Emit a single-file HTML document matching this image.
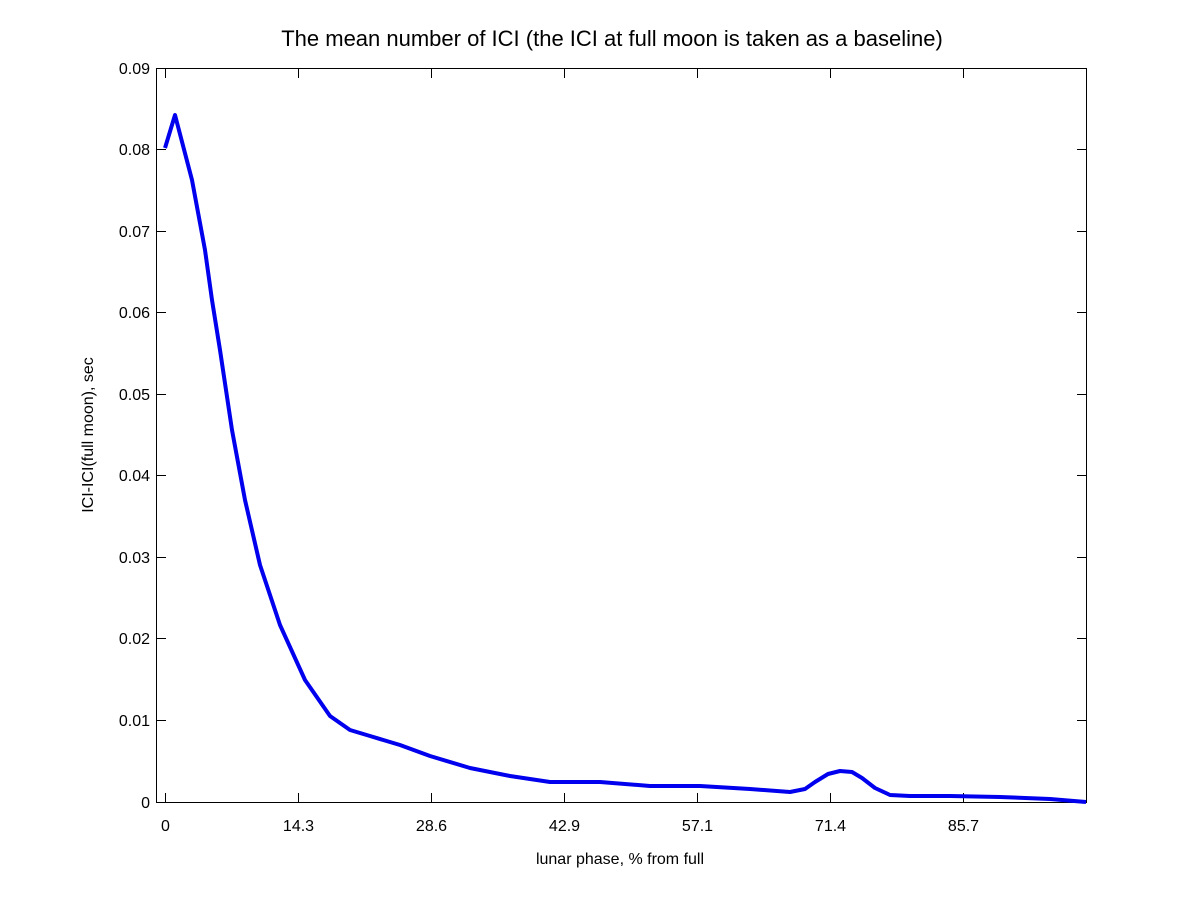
<!DOCTYPE html>
<html><head><style>body{margin:0;background:#fff}</style></head><body>
<svg width="1200" height="901" xmlns="http://www.w3.org/2000/svg" font-family="Liberation Sans, sans-serif">
<rect width="1200" height="901" fill="#fff"/>
<rect x="156.5" y="68.5" width="930" height="734" fill="none" stroke="#000" stroke-width="1"/>
<g stroke="#000" stroke-width="1">
<line x1="165.5" y1="802" x2="165.5" y2="793"/><line x1="165.5" y1="69" x2="165.5" y2="78"/>
<line x1="298.5" y1="802" x2="298.5" y2="793"/><line x1="298.5" y1="69" x2="298.5" y2="78"/>
<line x1="431.5" y1="802" x2="431.5" y2="793"/><line x1="431.5" y1="69" x2="431.5" y2="78"/>
<line x1="564.5" y1="802" x2="564.5" y2="793"/><line x1="564.5" y1="69" x2="564.5" y2="78"/>
<line x1="697.5" y1="802" x2="697.5" y2="793"/><line x1="697.5" y1="69" x2="697.5" y2="78"/>
<line x1="830.5" y1="802" x2="830.5" y2="793"/><line x1="830.5" y1="69" x2="830.5" y2="78"/>
<line x1="963.5" y1="802" x2="963.5" y2="793"/><line x1="963.5" y1="69" x2="963.5" y2="78"/>
</g>
<g stroke="#000" stroke-width="1">
<line x1="157" y1="720.5" x2="166" y2="720.5"/><line x1="1086" y1="720.5" x2="1077" y2="720.5"/>
<line x1="157" y1="638.5" x2="166" y2="638.5"/><line x1="1086" y1="638.5" x2="1077" y2="638.5"/>
<line x1="157" y1="557.5" x2="166" y2="557.5"/><line x1="1086" y1="557.5" x2="1077" y2="557.5"/>
<line x1="157" y1="475.5" x2="166" y2="475.5"/><line x1="1086" y1="475.5" x2="1077" y2="475.5"/>
<line x1="157" y1="394.5" x2="166" y2="394.5"/><line x1="1086" y1="394.5" x2="1077" y2="394.5"/>
<line x1="157" y1="312.5" x2="166" y2="312.5"/><line x1="1086" y1="312.5" x2="1077" y2="312.5"/>
<line x1="157" y1="231.5" x2="166" y2="231.5"/><line x1="1086" y1="231.5" x2="1077" y2="231.5"/>
<line x1="157" y1="149.5" x2="166" y2="149.5"/><line x1="1086" y1="149.5" x2="1077" y2="149.5"/>
</g>
<g font-size="16" text-anchor="end" fill="#000">
<text x="150" y="808">0</text><text x="150" y="726">0.01</text><text x="150" y="644">0.02</text>
<text x="150" y="563">0.03</text><text x="150" y="481">0.04</text><text x="150" y="400">0.05</text>
<text x="150" y="318">0.06</text><text x="150" y="237">0.07</text><text x="150" y="155">0.08</text>
<text x="150" y="74">0.09</text>
</g>
<g font-size="16" text-anchor="middle" fill="#000">
<text x="165.5" y="831">0</text><text x="298.5" y="831">14.3</text><text x="431.5" y="831">28.6</text>
<text x="564.5" y="831">42.9</text><text x="697.5" y="831">57.1</text><text x="830.5" y="831">71.4</text>
<text x="963.5" y="831">85.7</text>
<text x="620" y="864">lunar phase, % from full</text>
<text x="612" y="46" font-size="22">The mean number of ICI (the ICI at full moon is taken as a baseline)</text>
</g>
<text transform="translate(93,435) rotate(-90)" font-size="16" text-anchor="middle">ICI-ICI(full moon), sec</text>
<polyline fill="none" stroke="#0000ee" stroke-width="4" stroke-linejoin="round" points="165,148 175,115 192,180 205,250 212,300 220,350 232,430 245,500 260,565 280,625 305,680 330,716 350,730 370,736 400,745 430,756 470,768 510,776 550,782 600,782 650,786 700,786 750,789 790,792 805,789 815,782 828,774 840,771 852,772 862,778 875,788 890,795 910,796 950,796 1000,797 1050,799 1086,802"/>
</svg>
</body></html>
